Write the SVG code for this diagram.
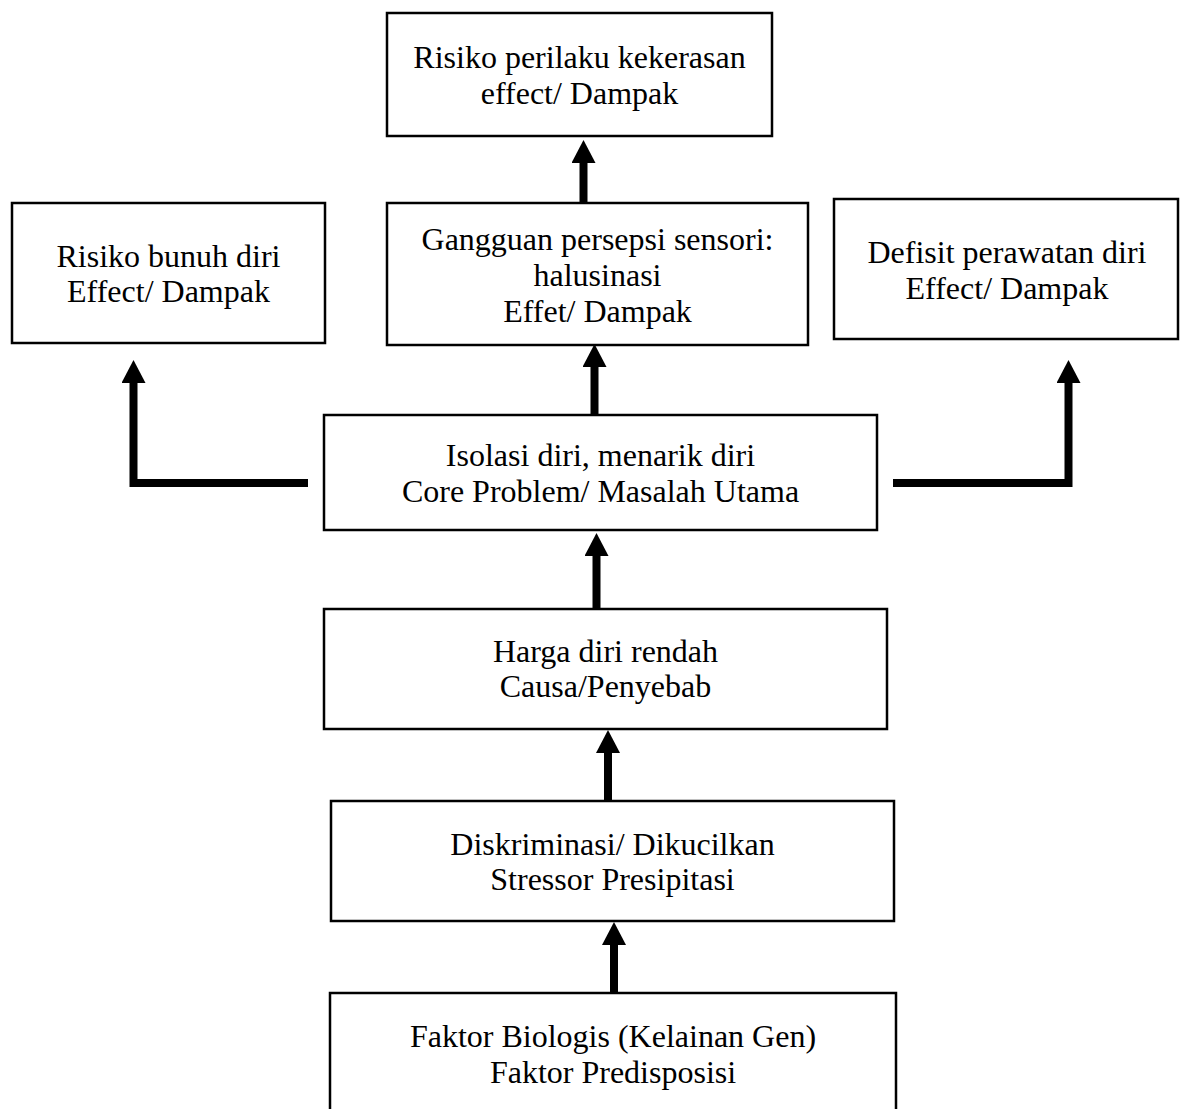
<svg xmlns="http://www.w3.org/2000/svg" width="1180" height="1109" viewBox="0 0 1180 1109">
  <style>
    .box { fill: #ffffff; stroke: #000000; stroke-width: 2.5; }
    .lbl { font-family: "Liberation Serif", "Times New Roman", serif; font-size: 32px; fill: #000000; text-anchor: middle; }
    .conn { fill: none; stroke: #000000; stroke-width: 8; stroke-linejoin: miter; marker-end: url(#head); }
  </style>
  <defs>
    <marker id="head" markerUnits="userSpaceOnUse" markerWidth="24" markerHeight="24" viewBox="0 0 24 24" refX="0" refY="12" orient="auto">
      <path d="M0,0 L23,12 L0,24 Z" fill="#000000"/>
    </marker>
  </defs>
  <rect x="0" y="0" width="1180" height="1109" fill="#ffffff"/>

  <g id="connectors">
    <path class="conn" d="M583.5,203 V163"/>
    <path class="conn" d="M594.5,416 V367"/>
    <path class="conn" d="M596.5,609 V556"/>
    <path class="conn" d="M608,801 V753"/>
    <path class="conn" d="M614,993 V945"/>
    <path class="conn" d="M308,483 H133.5 V383"/>
    <path class="conn" d="M893,483 H1068.5 V383"/>
  </g>

  <g id="node-risiko-kekerasan">
    <rect class="box" x="387" y="13" width="385" height="123"/>
    <text class="lbl" x="579.5" y="68">Risiko perilaku kekerasan</text>
    <text class="lbl" x="579.5" y="104">effect/ Dampak</text>
  </g>

  <g id="node-bunuh-diri">
    <rect class="box" x="12" y="203" width="313" height="140"/>
    <text class="lbl" x="168.5" y="267">Risiko bunuh diri</text>
    <text class="lbl" x="168.5" y="302">Effect/ Dampak</text>
  </g>

  <g id="node-gangguan">
    <rect class="box" x="387" y="203" width="421" height="142"/>
    <text class="lbl" x="597.5" y="250">Gangguan persepsi sensori:</text>
    <text class="lbl" x="597.5" y="286">halusinasi</text>
    <text class="lbl" x="597.5" y="322">Effet/ Dampak</text>
  </g>

  <g id="node-defisit">
    <rect class="box" x="834" y="199" width="344" height="140"/>
    <text class="lbl" x="1007" y="263">Defisit perawatan diri</text>
    <text class="lbl" x="1007" y="299">Effect/ Dampak</text>
  </g>

  <g id="node-isolasi">
    <rect class="box" x="324" y="415" width="553" height="115"/>
    <text class="lbl" x="600.5" y="466">Isolasi diri, menarik diri</text>
    <text class="lbl" x="600.5" y="502">Core Problem/ Masalah Utama</text>
  </g>

  <g id="node-harga-diri">
    <rect class="box" x="324" y="609" width="563" height="120"/>
    <text class="lbl" x="605.5" y="662">Harga diri rendah</text>
    <text class="lbl" x="605.5" y="697">Causa/Penyebab</text>
  </g>

  <g id="node-diskriminasi">
    <rect class="box" x="331" y="801" width="563" height="120"/>
    <text class="lbl" x="612.5" y="855">Diskriminasi/ Dikucilkan</text>
    <text class="lbl" x="612.5" y="890">Stressor Presipitasi</text>
  </g>

  <g id="node-faktor">
    <rect class="box" x="330" y="993" width="566" height="130"/>
    <text class="lbl" x="613" y="1047">Faktor Biologis (Kelainan Gen)</text>
    <text class="lbl" x="613" y="1083">Faktor Predisposisi</text>
  </g>
</svg>
